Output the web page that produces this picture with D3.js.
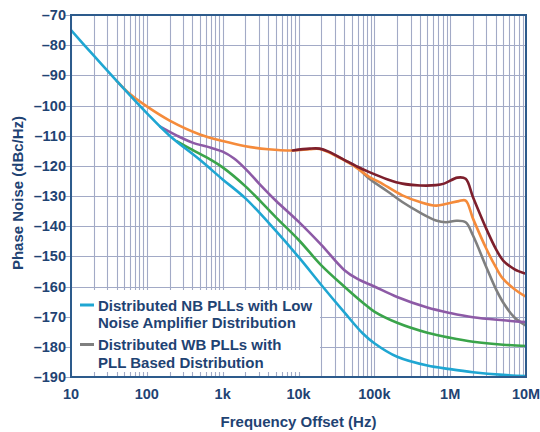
<!DOCTYPE html>
<html>
<head>
<meta charset="utf-8">
<script src="https://cdn.jsdelivr.net/npm/d3@7"></script>
<style>
    body { margin: 0; background: #ffffff; }
    svg { display: block; }
    text { font-family: "Liberation Sans", Arial, sans-serif; font-weight: bold; fill: #1f4373; }
</style>
</head>
<body>
<script>

// Axis ticks
let xTicks = [10, 100, 1e3, 1e4, 1e5, 1e6, 1e7];
let xTickLabels = ["10", "100", "1k", "10k", "100k", "1M", "10M"];
let yTicks = [-70, -80, -90, -100, -110, -120, -130, -140, -150, -160, -170, -180, -190];

// Phase noise curves, [offset Hz, dBc/Hz]
let nbLnaNoise = [[10, -75], [20, -83.5], [40, -91.8], [100, -102.5], [200, -110],
    [500, -118], [1000, -124.5], [2000, -130.8], [5000, -141.5], [10000, -150.2],
    [20000, -159.5], [40000, -168.5], [70000, -175.5], [100000, -178.8], [200000, -183.3],
    [500000, -186.2], [1e6, -187.4], [2e6, -188.4], [5e6, -189.3], [1e7, -189.7]];

let wbPllNoise = [[40000, -118], [60000, -120.6], [86000, -124.3], [150000, -128.5],
    [234000, -132], [400000, -135.5], [650000, -138.1], [880000, -138.7], [1.2e6, -138.2],
    [1.6e6, -138.7], [2e6, -143.1], [3e6, -153.6], [4e6, -160.8], [5e6, -165.3],
    [7e6, -170.2], [1e7, -173]];

let greenNoise = [[250, -111.9], [400, -114.7], [700, -118], [1000, -120.5], [2000, -126.8],
    [5000, -137], [10000, -144.5], [20000, -153], [40000, -160], [70000, -165.3],
    [100000, -168.3], [200000, -172], [500000, -175.3], [1e6, -177], [2e6, -178.3],
    [5e6, -179.3], [1e7, -179.7]];

let purpleNoise = [[150, -107], [250, -110], [400, -112.3], [700, -114], [1000, -115.3],
    [1400, -117.5], [2000, -121], [3000, -125.8], [5000, -131.5], [10000, -138.5],
    [20000, -146.2], [40000, -154.5], [60000, -157.5], [100000, -160], [200000, -163.5],
    [500000, -167], [1e6, -168.8], [2e6, -170.2], [5e6, -171.2], [1e7, -171.8]];

let orangeNoise = [[40, -91.8], [60, -96.2], [100, -100.3], [200, -105], [500, -109.6],
    [1000, -111.8], [2000, -113.5], [4000, -114.5], [8400, -114.9], [14000, -114.5],
    [19000, -114.4], [30000, -116.5], [50000, -119.5], [86000, -123.7], [117000, -125.4],
    [234000, -129.8], [400000, -132], [650000, -133.2], [900000, -132.6], [1.3e6, -131.7],
    [1.6e6, -131.5], [2e6, -137.5], [3e6, -147.5], [4e6, -153.6], [5e6, -157.5],
    [7e6, -160.8], [1e7, -163.4]];

let maroonNoise = [[8400, -114.9], [14000, -114.3], [19000, -114.3], [25000, -115.3],
    [40000, -118], [60000, -120.3], [86000, -122.1], [150000, -124.5], [234000, -125.9],
    [400000, -126.5], [650000, -126.4], [830000, -125.9], [1.25e6, -123.9], [1.6e6, -124.3],
    [2e6, -130.4], [3e6, -140.9], [4e6, -147.5], [5e6, -151.4], [7e6, -154.2], [1e7, -155.8]];

// Drawing order: bottom first
let series = [
    { data: wbPllNoise, color: "#7f7f7f" },
    { data: orangeNoise, color: "#f58b3b" },
    { data: maroonNoise, color: "#7d1f2c" },
    { data: purpleNoise, color: "#8d5aa6" },
    { data: greenNoise, color: "#3aa44a" },
    { data: nbLnaNoise, color: "#1fa6d2" }
];

let legendItems = [
    { color: "#1fa6d2", lines: ["Distributed NB PLLs with Low", "Noise Amplifier Distribution"] },
    { color: "#7f7f7f", lines: ["Distributed WB PLLs with", "PLL Based Distribution"] }
];

let width = 540, height = 432;
let plot = { left: 71, right: 526, top: 15, bottom: 377 };

let svg = d3.select("body").append("svg")
    .attr("width", width)
    .attr("height", height);

let x = d3.scaleLog()
    .domain([10, 1e7])
    .range([plot.left, plot.right]);

let y = d3.scaleLinear()
    .domain([-190, -70])
    .range([plot.bottom, plot.top]);

// Grid: every 1..9 step in each decade, every 10 dB
let minorX = [];
for (let d = 10; d < 1e7; d *= 10) {
    for (let m = 1; m < 10; m++) minorX.push(d * m);
}

let grid = svg.append("g").attr("class", "grid")
    .attr("stroke", "#a2aac6")
    .attr("stroke-width", 1.1);

grid.selectAll(".vline")
    .data(minorX).enter()
    .append("line")
    .attr("x1", d => Math.round(x(d)) + 0.5)
    .attr("x2", d => Math.round(x(d)) + 0.5)
    .attr("y1", plot.top)
    .attr("y2", plot.bottom);

grid.selectAll(".hline")
    .data(yTicks).enter()
    .append("line")
    .attr("x1", plot.left - 6)
    .attr("x2", plot.right)
    .attr("y1", d => Math.round(y(d)) + 0.5)
    .attr("y2", d => Math.round(y(d)) + 0.5);

// Legend box blanks the grid beneath it
svg.append("rect")
    .attr("x", plot.left + 1)
    .attr("y", 290)
    .attr("width", 248)
    .attr("height", 82)
    .attr("fill", "#ffffff");

svg.append("clipPath")
    .attr("id", "plotClip")
    .append("rect")
    .attr("x", plot.left)
    .attr("y", plot.top)
    .attr("width", plot.right - plot.left)
    .attr("height", plot.bottom - plot.top);

let line = d3.line()
    .x(d => x(d[0]))
    .y(d => y(d[1]))
    .curve(d3.curveCatmullRom.alpha(0.5));

svg.append("g")
    .attr("clip-path", "url(#plotClip)")
    .selectAll(".curve")
    .data(series).enter()
    .append("path")
    .attr("d", d => line(d.data))
    .attr("fill", "none")
    .attr("stroke", d => d.color)
    .attr("stroke-width", 2.6)
    .attr("stroke-linejoin", "round")
    .attr("stroke-linecap", "round");

// Frame
svg.append("rect")
    .attr("x", plot.left)
    .attr("y", plot.top)
    .attr("width", plot.right - plot.left)
    .attr("height", plot.bottom - plot.top)
    .attr("fill", "none")
    .attr("stroke", "#2d5b8c")
    .attr("stroke-width", 2);

// Tick labels
svg.selectAll(".ylabel")
    .data(yTicks).enter()
    .append("text")
    .attr("x", 66)
    .attr("y", d => y(d) + 5)
    .attr("text-anchor", "end")
    .style("font-size", "14.5px")
    .text(d => "\u2013" + Math.abs(d));

svg.selectAll(".xlabel")
    .data(xTicks).enter()
    .append("text")
    .attr("x", d => x(d))
    .attr("y", 399)
    .attr("text-anchor", "middle")
    .style("font-size", "14.5px")
    .text((d, i) => xTickLabels[i]);

// Axis titles
svg.append("text")
    .attr("x", (plot.left + plot.right) / 2)
    .attr("y", 427)
    .attr("text-anchor", "middle")
    .style("font-size", "15px")
    .text("Frequency Offset (Hz)");

svg.append("text")
    .attr("transform", "translate(22.5,193) rotate(-90)")
    .attr("text-anchor", "middle")
    .style("font-size", "15px")
    .text("Phase Noise (dBc/Hz)");

// Legend
let legendTop = [310.5, 350];
let legend = svg.append("g").attr("class", "legend");

legendItems.forEach(function(item, i) {
    let base = legendTop[i];
    legend.append("line")
        .attr("x1", 80)
        .attr("x2", 94)
        .attr("y1", base - 5.5)
        .attr("y2", base - 5.5)
        .attr("stroke", item.color)
        .attr("stroke-width", 3);
    item.lines.forEach(function(t, j) {
        legend.append("text")
            .attr("x", 98)
            .attr("y", base + j * 17.5)
            .style("font-size", "15px")
            .text(t);
    });
});

</script>
</body>
</html>
